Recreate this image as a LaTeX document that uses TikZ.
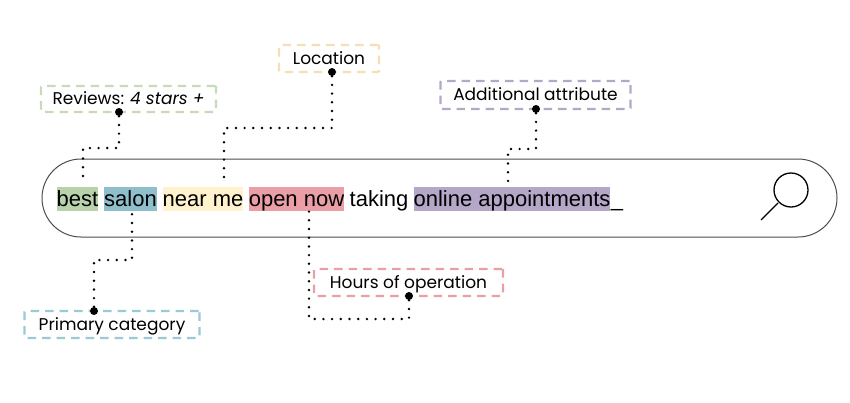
\documentclass[tikz,border=0pt]{standalone}
\usepackage{fontspec}
\setmainfont{Liberation Sans}
\newfontfamily\tagfont{Poppins}
\usetikzlibrary{calc}
\definecolor{cGreen}{HTML}{B8D2AB}
\definecolor{cTeal}{HTML}{8EBFCB}
\definecolor{cYellow}{HTML}{FFF2CC}
\definecolor{cRed}{HTML}{EA9EA5}
\definecolor{cPurple}{HTML}{B4A7C7}
\definecolor{cSand}{HTML}{F6DFB4}
\definecolor{cTagGreen}{HTML}{C6DBB8}
\definecolor{cTagTeal}{HTML}{9ACAD3}
\tikzset{
 word/.style = {inner sep=0pt, minimum height=24pt, text height=15.5pt, text depth=4.5pt,
  font=\fontsize{22}{24}\selectfont},
 hl/.style = {word, fill=#1},
 tagbox/.style = {draw=#1, line width=2.4pt, dash pattern=on 8.5pt off 6pt, rounded corners=1pt,
  inner sep=0pt, text height=14pt, text depth=3pt, font=\tagfont\fontsize{17}{20}\selectfont},
 tagdot/.style = {circle, fill=black, inner sep=0pt, minimum size=8pt},
 wire/.style = {line width=2.7pt, line cap=round, dash pattern=on 0pt off 8.7pt}
}
\newcommand{\connectTag}[3]{
    \draw[wire] (#1) -- (#1 |- 0,#3) -- (#2 |- 0,#3) -- (#2);
}
\begin{document}
\begin{tikzpicture}[x=1pt, y=-1pt]
    \useasboundingbox (0,0) rectangle (850,402);
    % search bar
    \node[draw=black!70, line width=1pt, rounded corners=39pt, minimum width=795pt, minimum height=78pt,
      inner sep=0pt] (bar) at (439.5,198) {};
    \node[hl=cGreen, minimum width=41pt] (best) at (77.5,199) {\raisebox{-1.5pt}{best}};
    \node[hl=cTeal, minimum width=53pt] (salon) at (130.5,199) {\raisebox{-1.5pt}{salon}};
    \node[hl=cYellow, minimum width=80pt] (near) at (203,199) {\raisebox{-1.5pt}{near me}};
    \node[hl=cRed, minimum width=95pt] (open) at (296.5,199) {\raisebox{-1.5pt}{open now}};
    \node[word] (taking) at (379,199) {\raisebox{-1.5pt}{taking}};
    \node[hl=cPurple, minimum width=196pt] (online) at (512,199) {\raisebox{-1.5pt}{online appointments}};
    \node[word, anchor=west] (cursor) at (online.east) {\raisebox{-1.5pt}{\_}};
    % magnifier
    \node[draw=black, circle, line width=1.3pt, minimum size=34pt, inner sep=0pt] (lens) at (791,190) {};
    \coordinate (handle) at (761,220);
    \draw[line width=1.3pt] (lens) ++(-13,13) -- (handle);
    % tags
    \node[tagbox=cTagGreen, minimum width=175pt, minimum height=26pt] (reviews) at (128.5,99) {Reviews: \textit{4 stars +}};
    \node[tagbox=cSand, minimum width=100pt, minimum height=27pt] (location) at (329,58.5) {Location};
    \node[tagbox=cPurple, minimum width=190pt, minimum height=28pt] (additional) at (535.5,95) {Additional attribute};
    \node[tagbox=cTagTeal, minimum width=175pt, minimum height=27pt] (primary) at (112,324.5) {Primary category};
    \node[tagbox=cRed, minimum width=189pt, minimum height=27pt] (hours) at (408.5,282.5) {Hours of operation};
    % dots
    \node[tagdot] (reviewsDot) at (119,112) {};
    \node[tagdot] (locationDot) at (332,72) {};
    \node[tagdot] (additionalDot) at (536,109) {};
    \node[tagdot] (primaryDot) at (94,311) {};
    \node[tagdot] (hoursDot) at (409,296) {};
    % free ends
    \coordinate (bestPin) at (83,180);
    \coordinate (nearPin) at (224,179);
    \coordinate (onlinePin) at (508,184);
    \coordinate (salonPin) at (132,210);
    \coordinate (openPin) at (309,210);
    \connectTag{reviewsDot}{bestPin}{148}
    \connectTag{locationDot}{nearPin}{128}
    \connectTag{additionalDot}{onlinePin}{149}
    \connectTag{primaryDot}{salonPin}{260}
    \connectTag{hoursDot}{openPin}{319}
\end{tikzpicture}
\end{document}
